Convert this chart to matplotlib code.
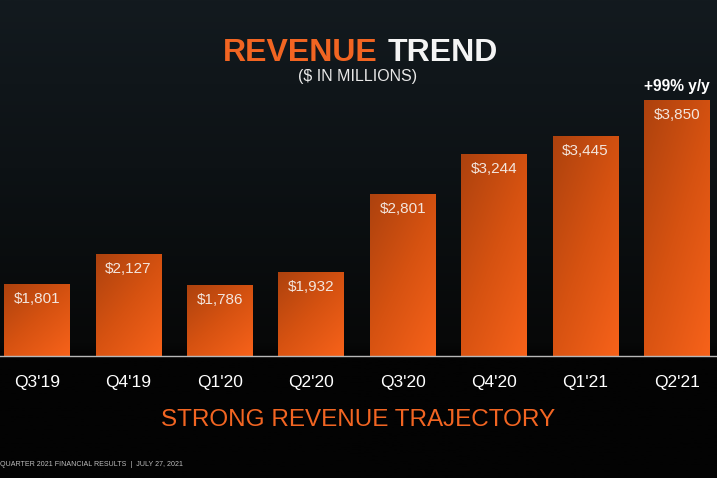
import numpy as np
import matplotlib
matplotlib.use("Agg")
import matplotlib.pyplot as plt
from matplotlib.colors import LinearSegmentedColormap

# ---- data ----
quarters = ["Q3'19", "Q4'19", "Q1'20", "Q2'20", "Q3'20", "Q4'20", "Q1'21", "Q2'21"]
revenue = [1801, 2127, 1786, 1932, 2801, 3244, 3445, 3850]
value_labels = ["$1,801", "$2,127", "$1,786", "$1,932", "$2,801", "$3,244", "$3,445", "$3,850"]
growth_note = "+99% y/y"

plt.rcParams['font.family'] = ['Liberation Sans', 'DejaVu Sans']

W, H = 717, 478
fig = plt.figure(figsize=(W / 100, H / 100), dpi=100, facecolor='#040404')

# background gradient (dark slate at the top fading to black at the baseline)
bg = fig.add_axes([0, 0, 1, 1])
bg.set_axis_off()
grad = np.linspace(0, 1, 256).reshape(-1, 1)
bg_cmap = LinearSegmentedColormap.from_list(
    'bg', [(0, '#131a1f'), (0.35, '#0d1215'), (0.72, '#070808'), (0.745, '#030303'), (1, '#030303')])
bg.imshow(grad, aspect='auto', cmap=bg_cmap, extent=(0, 1, 0, 1), origin='upper')
bg.set_xlim(0, 1)
bg.set_ylim(0, 1)

# main axes: baseline at pixel y=356
ax_bottom = (H - 356) / H
ax_top = (H - 60) / H
ax = fig.add_axes([0, ax_bottom, 1, ax_top - ax_bottom])
ax.patch.set_alpha(0)
x = np.arange(len(quarters))
ymin = 993
ymax = ymin + (356 - 60) / 0.0896

bar_cmap = LinearSegmentedColormap.from_list('bar', ['#ad420e', '#d65211', '#f7621a'])
bars = ax.bar(x, revenue, width=0.72, color='none', edgecolor='none')
n = 64
cols, rows = np.meshgrid(np.linspace(0, 1, n), np.linspace(0, 1, n))
g = (cols * 0.45 + rows * 0.55)
for b in bars:
    x0, w = b.get_x(), b.get_width()
    y1 = b.get_height()
    im = ax.imshow(g, cmap=bar_cmap, extent=(x0, x0 + w, ymin, y1), origin='upper',
                   aspect='auto', interpolation='bilinear', zorder=2)
    im.set_clip_path(b)
ax.set_aspect('auto')
ax.set_xlim(-0.405, 7.437)
ax.set_ylim(ymin, ymax)

# value labels inside bars
for xi, v, lab in zip(x, revenue, value_labels):
    ax.annotate(lab, (xi, v), xytext=(0, -15 * 0.72), textcoords='offset points',
                ha='center', va='center', color='#f3e6de', fontsize=11, zorder=3)

ax.annotate(growth_note, (x[-1], revenue[-1]), xytext=(0, 10), textcoords='offset points',
            ha='center', va='center', color='white', fontsize=11.2, fontweight='bold', zorder=3)

for s in ['top', 'right', 'left']:
    ax.spines[s].set_visible(False)
ax.spines['bottom'].set_color('#b8b8b8')
ax.spines['bottom'].set_linewidth(1.0)
ax.spines['bottom'].set_zorder(4)
ax.set_yticks([])
ax.set_xticks(x)
ax.set_xticklabels(quarters, color='white', fontsize=12.5)
ax.tick_params(axis='x', length=0, pad=14)

# titles
fig.text(223 / W, 1 - 53 / H, "REVENUE", ha='left', va='center', color='#f26522',
         fontsize=23, fontweight='bold')
fig.text(388 / W, 1 - 53 / H, "TREND", ha='left', va='center', color='#f4f4f4',
         fontsize=23, fontweight='bold')
fig.text(357.5 / W, 1 - 76 / H, "($ IN MILLIONS)", ha='center', va='center', color='#e8e8e8',
         fontsize=11.5)

fig.text(358 / W, 1 - 420 / H, "STRONG REVENUE TRAJECTORY", ha='center', va='center',
         color='#f26522', fontsize=17.5)
fig.text(0.0, 1 - 464 / H, "QUARTER 2021 FINANCIAL RESULTS  |  JULY 27, 2021", ha='left', va='center',
         color='#bdbdbd', fontsize=5.1)

fig.savefig('out.png', dpi=100, facecolor=fig.get_facecolor())
